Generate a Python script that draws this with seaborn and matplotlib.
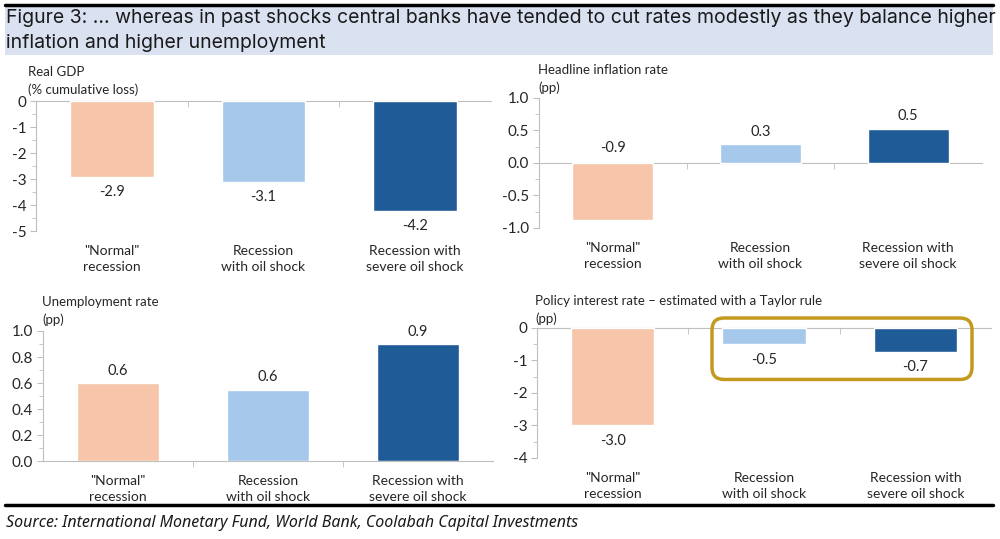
import matplotlib
matplotlib.use("Agg")
import matplotlib.pyplot as plt
import seaborn as sns
import pandas as pd
from matplotlib.patches import FancyBboxPatch, Rectangle
from matplotlib.lines import Line2D
from matplotlib.ticker import MultipleLocator, AutoMinorLocator, FormatStrFormatter

# data
scenarios = ['"Normal"\nrecession', "Recession\nwith oil shock", "Recession with\nsevere oil shock"]
gdp = [-2.93, -3.12, -4.22]
gdp_labels = ["-2.9", "-3.1", "-4.2"]
inflation = [-0.88, 0.29, 0.53]
inflation_labels = ["-0.9", "0.3", "0.5"]
unemployment = [0.60, 0.55, 0.90]
unemployment_labels = ["0.6", "0.6", "0.9"]
policy = [-3.0, -0.5, -0.74]
policy_labels = ["-3.0", "-0.5", "-0.7"]

colors = ["#f6c5aa", "#a6c8eb", "#1f5b97"]
axis_grey = "#bfbfbf"
text_col = "#262626"

sns.set_style("white")
plt.rcParams["font.family"] = ["Lato", "DejaVu Sans"]
plt.rcParams["axes.unicode_minus"] = False

W, H = 1000, 539
fig = plt.figure(figsize=(W / 100, H / 100), dpi=100)

panels = [
    # values, labels, title, ylim, major step, fmt, axes rect, title position (px)
    (gdp, gdp_labels, "Real GDP\n(% cumulative loss)", (-5, 0), 1, "%d",
     [0.036, 0.5714, 0.455, 0.2412], (28, 81)),
    (inflation, inflation_labels, "Headline inflation rate\n(pp)", (-1, 1), 0.5, "%.1f",
     [0.539, 0.577, 0.443, 0.2412], (538, 79)),
    (unemployment, unemployment_labels, "Unemployment rate\n(pp)", (0, 1), 0.2, "%.1f",
     [0.043, 0.1447, 0.450, 0.2412], (42, 311)),
    (policy, policy_labels, "Policy interest rate \u2013 estimated with a Taylor rule\n(pp)", (-4, 0), 1, "%d",
     [0.537, 0.1503, 0.454, 0.2412], (535, 310)),
]

for vals, labs, title, ylim, step, fmt, rect, tpos in panels:
    ax = fig.add_axes(rect)
    df = pd.DataFrame({"scenario": scenarios, "value": vals})
    sns.barplot(data=df, x="scenario", y="value", hue="scenario", palette=colors,
                width=0.55, legend=False, ax=ax, saturation=1)
    ax.set_xlim(-0.5, 2.5)
    ax.set_ylim(*ylim)
    ax.set_xlabel("")
    ax.set_ylabel("")

    # zero line = top spine moved to 0, with ticks between categories
    for s in ["right", "bottom"]:
        ax.spines[s].set_visible(False)
    ax.spines["top"].set_position(("data", 0))
    ax.spines["top"].set_color(axis_grey)
    ax.spines["left"].set_color(axis_grey)
    ax.spines["top"].set_zorder(0.5)
    ax.set_xticks([0.5, 1.5], minor=True)
    ax.tick_params(axis="x", which="major", length=0, bottom=False, top=False,
                   labelbottom=False)
    ax.tick_params(axis="x", which="minor", bottom=False, top=True, direction="in",
                   length=4, color=axis_grey)

    # category labels under the plot area
    for i, name in enumerate(scenarios):
        ax.text(i, -0.215, name, transform=ax.get_xaxis_transform(), ha="center",
                va="center", fontsize=10, color=text_col, linespacing=1.4)

    ax.yaxis.set_major_locator(MultipleLocator(step))
    ax.yaxis.set_minor_locator(AutoMinorLocator(2))
    ax.yaxis.set_major_formatter(FormatStrFormatter(fmt))
    ax.tick_params(axis="y", which="major", left=True, direction="out", length=4,
                   color=axis_grey, labelsize=11, labelcolor=text_col, pad=3)
    ax.tick_params(axis="y", which="minor", left=True, direction="out", length=3,
                   color=axis_grey)

    # data labels
    for i, (v, lab) in enumerate(zip(vals, labs)):
        if v >= 0 or ylim == (-1, 1):
            y0 = max(v, 0)
            off = 9 if v >= 0 else 11
        else:
            y0 = v
            off = -11
        ax.annotate(lab, (i, y0), xytext=(0, off), textcoords="offset points",
                    ha="center", va="center", fontsize=10.5, color=text_col)

    fig.text(tpos[0] / W, 1 - tpos[1] / H, title, ha="left", va="center",
             fontsize=9.5, color=text_col, linespacing=1.45)

# highlight box around the oil-shock scenarios on the policy panel
box = FancyBboxPatch((0.712, 0.296), 0.260, 0.114, transform=fig.transFigure,
                     boxstyle="round,pad=0,rounding_size=0.012", mutation_aspect=W / H,
                     fill=False, edgecolor="#c49a1e", linewidth=2.5, zorder=5)
fig.patches.append(box)

# header band and rules
fig.patches.append(Rectangle((0.005, 1 - 55 / H), 0.988, 50 / H, transform=fig.transFigure,
                             facecolor="#dae2f1", edgecolor="none", zorder=0))
fig.lines.append(Line2D([0.005, 0.993], [1 - 4.5 / H] * 2, transform=fig.transFigure,
                        color="black", linewidth=2.5))
fig.lines.append(Line2D([0.005, 0.993], [1 - 505 / H] * 2, transform=fig.transFigure,
                        color="black", linewidth=2.5))

head_font = ["Inter", "DejaVu Sans"]
fig.text(0.006, 1 - 18 / H, "Figure 3: ... whereas in past shocks central banks have tended to cut rates modestly as they balance higher",
         ha="left", va="center", fontsize=14, color="#1a1a1a", family=head_font)
fig.text(0.006, 1 - 43 / H, "inflation and higher unemployment",
         ha="left", va="center", fontsize=14, color="#1a1a1a", family=head_font)
fig.text(0.006, 1 - 523 / H, "Source: International Monetary Fund, World Bank, Coolabah Capital Investments",
         ha="left", va="center", fontsize=11.5, style="italic", color="#1a1a1a",
         family=["Noto Sans", "DejaVu Sans"])

fig.savefig("out.png", dpi=100)
